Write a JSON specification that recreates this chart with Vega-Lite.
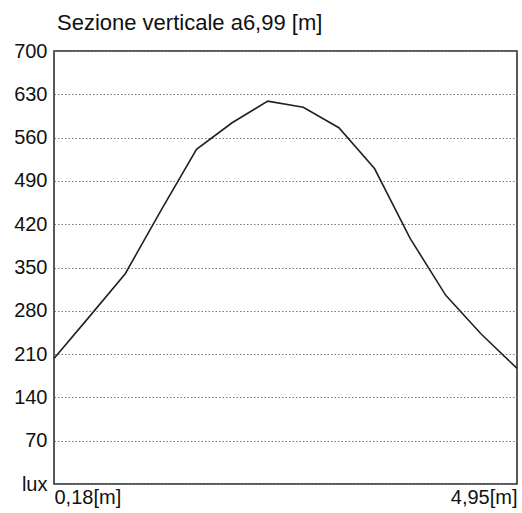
{
  "$schema": "https://vega.github.io/schema/vega-lite/v6.json",
  "autosize": "none",
  "width": 463,
  "height": 433,
  "padding": {"left": 54, "top": 51, "right": 5, "bottom": 29},
  "background": "white",
  "title": {
    "text": "Sezione verticale a6,99 [m]",
    "anchor": "start",
    "frame": "group",
    "dx": 3,
    "offset": 6,
    "font": "Liberation Sans",
    "fontSize": 22,
    "fontWeight": "normal",
    "color": "#111"
  },
  "config": {
    "view": {"stroke": "#222", "strokeWidth": 1.5},
    "axis": {"labelFont": "Liberation Sans", "labelFontSize": 20, "labelColor": "#111", "ticks": false, "domain": false, "title": null}
  },
  "data": {
    "values": [
      {"x": 0.18, "lux": 203},
      {"x": 0.547, "lux": 271},
      {"x": 0.914, "lux": 340},
      {"x": 1.281, "lux": 442},
      {"x": 1.648, "lux": 541},
      {"x": 2.015, "lux": 584},
      {"x": 2.382, "lux": 619},
      {"x": 2.748, "lux": 609},
      {"x": 3.115, "lux": 576},
      {"x": 3.482, "lux": 510},
      {"x": 3.849, "lux": 397},
      {"x": 4.216, "lux": 305},
      {"x": 4.583, "lux": 242},
      {"x": 4.95, "lux": 187}
    ]
  },
  "mark": {"type": "line", "color": "#222", "strokeWidth": 1.6},
  "encoding": {
    "x": {
      "field": "x",
      "type": "quantitative",
      "scale": {"domain": [0.18, 4.95], "nice": false, "zero": false},
      "axis": {
        "values": [0.18, 4.95],
        "labelExpr": "datum.value < 1 ? '0,18[m]' : '4,95[m]'",
        "labelFlush": true,
        "labelPadding": 3,
        "grid": false
      }
    },
    "y": {
      "field": "lux",
      "type": "quantitative",
      "scale": {"domain": [0, 700], "nice": false},
      "axis": {
        "values": [0, 70, 140, 210, 280, 350, 420, 490, 560, 630, 700],
        "labelExpr": "datum.value == 0 ? 'lux' : datum.label",
        "labelPadding": 7,
        "grid": true,
        "gridColor": "#777",
        "gridDash": [1.5, 2],
        "gridWidth": 1
      }
    }
  }
}
